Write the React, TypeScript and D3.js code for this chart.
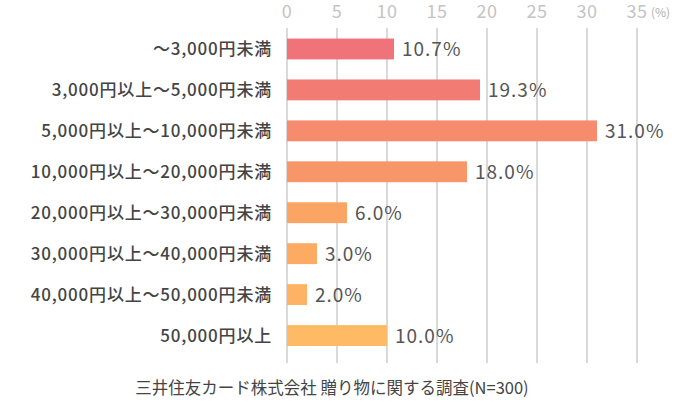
import { useEffect, useRef } from "react";
import * as d3 from "d3";

const categories = [
  "～3,000円未満",
  "3,000円以上～5,000円未満",
  "5,000円以上～10,000円未満",
  "10,000円以上～20,000円未満",
  "20,000円以上～30,000円未満",
  "30,000円以上～40,000円未満",
  "40,000円以上～50,000円未満",
  "50,000円以上",
];
const values = [10.7, 19.3, 31.0, 18.0, 6.0, 3.0, 2.0, 10.0];
const ticks = [0, 5, 10, 15, 20, 25, 30, 35];
const colors = [
  "#f0737a",
  "#f27c74",
  "#f68b6e",
  "#f8966a",
  "#fba564",
  "#fdab63",
  "#feb263",
  "#ffba65",
];
const source = "三井住友カード株式会社 贈り物に関する調査(N=300)";

const WIDTH = 681;
const HEIGHT = 404;
const FONT = "'Noto Sans CJK JP', 'Noto Sans', sans-serif";

export default function App() {
  const ref = useRef<SVGSVGElement | null>(null);

  useEffect(() => {
    if (!ref.current) return;
    const svg = d3.select(ref.current);
    svg.selectAll("*").remove();

    const x = d3.scaleLinear().domain([0, 35]).range([287, 637]);
    const y = d3
      .scaleBand<string>()
      .domain(categories)
      .range([28.5, 356])
      .paddingInner(0.49)
      .paddingOuter(0.245);

    // gridlines
    svg
      .append("g")
      .selectAll("line")
      .data(ticks)
      .join("line")
      .attr("x1", (d) => x(d))
      .attr("x2", (d) => x(d))
      .attr("y1", 28)
      .attr("y2", 363)
      .attr("stroke", "#d9d9d9")
      .attr("stroke-width", 2);

    // tick labels
    svg
      .append("g")
      .selectAll("text")
      .data(ticks)
      .join("text")
      .attr("x", (d) => x(d))
      .attr("y", 18)
      .attr("text-anchor", "middle")
      .attr("font-family", FONT)
      .attr("font-size", 18)
      .attr("letter-spacing", 0.5)
      .attr("fill", "#c4c4c4")
      .text((d) => d);

    svg
      .append("text")
      .attr("x", 651)
      .attr("y", 17)
      .attr("font-family", FONT)
      .attr("font-size", 12)
      .attr("fill", "#b0b0b0")
      .text("(%)");

    // bars
    svg
      .append("g")
      .selectAll("rect")
      .data(values)
      .join("rect")
      .attr("x", x(0))
      .attr("y", (_, i) => y(categories[i]) ?? 0)
      .attr("width", (d) => x(d) - x(0))
      .attr("height", y.bandwidth())
      .attr("fill", (_, i) => colors[i]);

    // value labels
    svg
      .append("g")
      .selectAll("text")
      .data(values)
      .join("text")
      .attr("x", (d) => x(d) + 8)
      .attr("y", (_, i) => (y(categories[i]) ?? 0) + y.bandwidth() / 2)
      .attr("dy", "0.38em")
      .attr("font-family", FONT)
      .attr("font-size", 19)
      .attr("letter-spacing", 1)
      .attr("fill", "#555")
      .text((d) => `${d.toFixed(1)}%`);

    // category labels
    svg
      .append("g")
      .selectAll("text")
      .data(categories)
      .join("text")
      .attr("x", 272)
      .attr("y", (d) => (y(d) ?? 0) + y.bandwidth() / 2)
      .attr("dy", "0.38em")
      .attr("text-anchor", "end")
      .attr("font-family", FONT)
      .attr("font-weight", 500)
      .attr("font-size", 17)
      .attr("letter-spacing", 0.8)
      .attr("fill", "#444")
      .text((d) => d);

    svg
      .append("text")
      .attr("x", 332)
      .attr("y", 394)
      .attr("text-anchor", "middle")
      .attr("font-family", FONT)
      .attr("font-size", 16.5)
      .attr("fill", "#444")
      .text(source);
  }, []);

  return (
    <div style={{ position: "absolute", left: 0, top: 0 }}>
      <svg ref={ref} width={WIDTH} height={HEIGHT} style={{ display: "block", background: "#fff" }} />
    </div>
  );
}
